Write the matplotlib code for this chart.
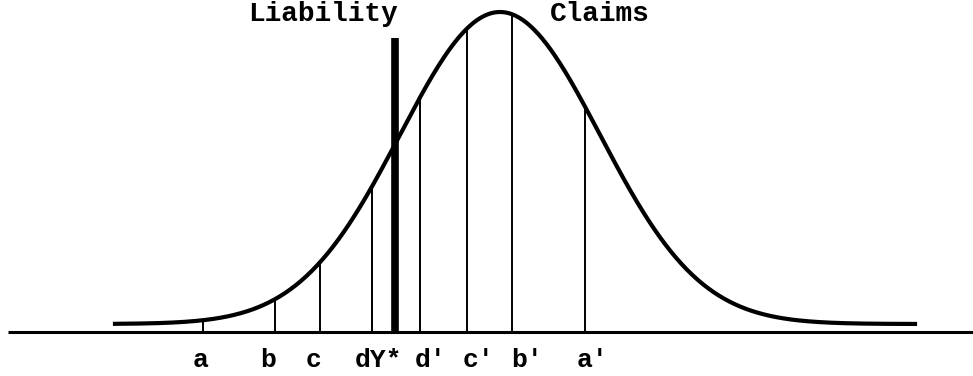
import numpy as np
import matplotlib
matplotlib.use("Agg")
import matplotlib.pyplot as plt

# distribution of claims (drawn in image-like units, y grows downward)
mean = 500
sd = 100
height = 312
tail = 8
x_start, x_end = 115, 915

# cut points under the curve
cut_names = ["a", "b", "c", "d", "d'", "c'", "b'", "a'"]
cut_x = [203, 275, 320, 372, 420, 467, 512, 585]
label_x = [201, 268, 314, 372, 431, 479, 527, 592]

# the liability point
ystar_x = 395
ystar_top = 38
ystar_label_x = 379

baseline = 332

def curve(x):
    return tail + height * np.exp(-0.5 * ((x - mean) / sd) ** 2)

fig = plt.figure(figsize=(9.73, 3.76), dpi=100)
ax = fig.add_axes([0, 0, 1, 1])
ax.set_xlim(0, 973)
ax.set_ylim(376, 0)
ax.axis("off")

font = dict(family="Liberation Mono", fontweight="bold", color="black")

# baseline
ax.plot([8, 973], [baseline, baseline], color="black", lw=2.2, solid_capstyle="butt")

# bell curve
xs = np.linspace(x_start, x_end, 600)
ax.plot(xs, baseline - curve(xs), color="black", lw=3.0)

# thin verticals from baseline up to the curve
for cx in cut_x:
    ax.plot([cx, cx], [baseline, baseline - curve(cx)], color="black", lw=1.4)

# thick Y* line
ax.plot([ystar_x, ystar_x], [baseline, ystar_top], color="black", lw=5.5, solid_capstyle="butt")

# labels under the axis
for name, lx in zip(cut_names, label_x):
    if name == "d":
        continue
    ax.text(lx, 360, name, ha="center", va="center", fontsize=19, **font)
ax.text(ystar_label_x, 360, "dY*", ha="center", va="center", fontsize=19, **font)

ax.text(323, 14, "Liability", ha="center", va="center", fontsize=20, **font)
ax.text(600, 14, "Claims", ha="center", va="center", fontsize=20, **font)

fig.savefig("out.png", dpi=100, facecolor="white")
